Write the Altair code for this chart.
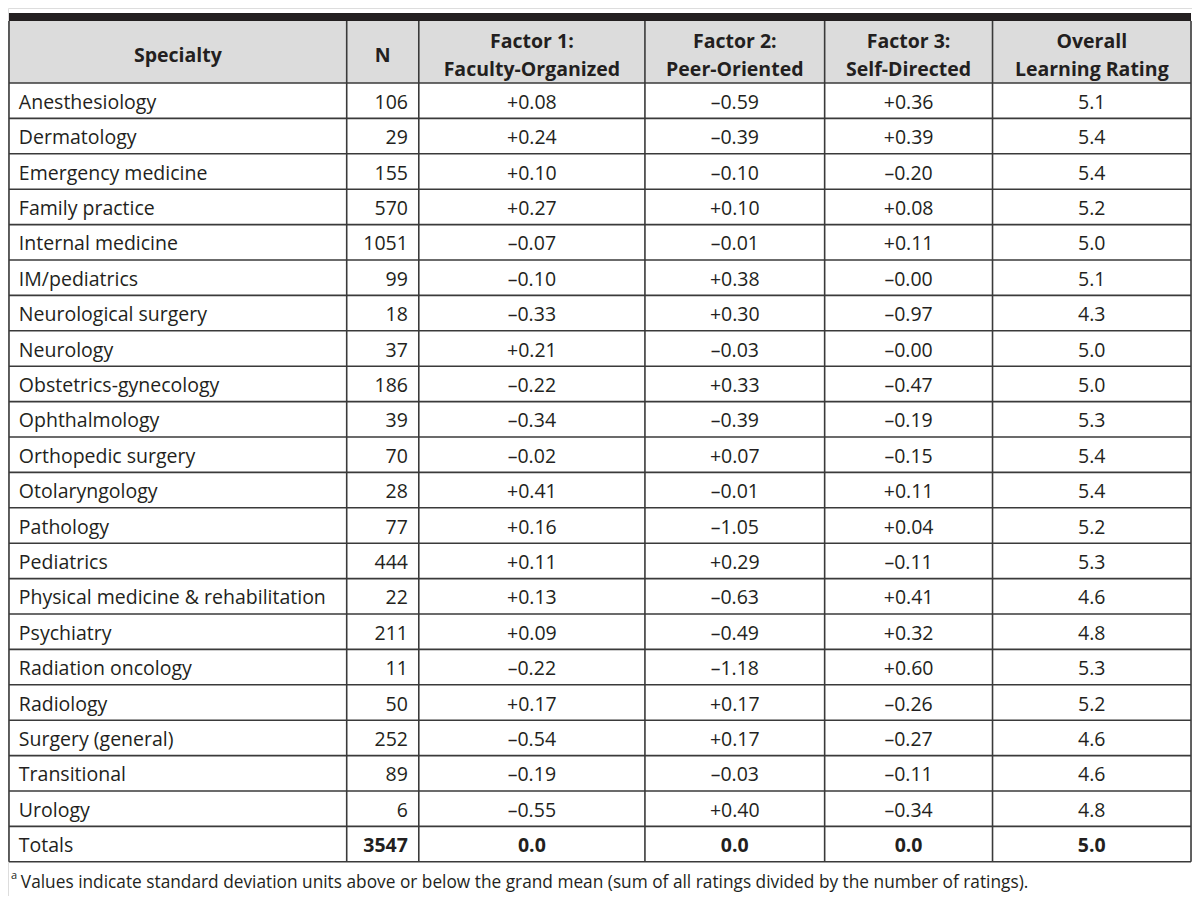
import altair as alt
import pandas as pd

# ---------------- data ----------------
specialties = [
    "Anesthesiology", "Dermatology", "Emergency medicine", "Family practice",
    "Internal medicine", "IM/pediatrics", "Neurological surgery", "Neurology",
    "Obstetrics-gynecology", "Ophthalmology", "Orthopedic surgery",
    "Otolaryngology", "Pathology", "Pediatrics",
    "Physical medicine & rehabilitation", "Psychiatry", "Radiation oncology",
    "Radiology", "Surgery (general)", "Transitional", "Urology",
]
n_values = ["106", "29", "155", "570", "1051", "99", "18", "37", "186", "39", "70",
            "28", "77", "444", "22", "211", "11", "50", "252", "89", "6"]
factor1 = ["+0.08", "+0.24", "+0.10", "+0.27", "–0.07", "–0.10", "–0.33", "+0.21",
           "–0.22", "–0.34", "–0.02", "+0.41", "+0.16", "+0.11", "+0.13", "+0.09",
           "–0.22", "+0.17", "–0.54", "–0.19", "–0.55"]
factor2 = ["–0.59", "–0.39", "–0.10", "+0.10", "–0.01", "+0.38", "+0.30", "–0.03",
           "+0.33", "–0.39", "+0.07", "–0.01", "–1.05", "+0.29", "–0.63", "–0.49",
           "–1.18", "+0.17", "+0.17", "–0.03", "+0.40"]
factor3 = ["+0.36", "+0.39", "–0.20", "+0.08", "+0.11", "–0.00", "–0.97", "–0.00",
           "–0.47", "–0.19", "–0.15", "+0.11", "+0.04", "–0.11", "+0.41", "+0.32",
           "+0.60", "–0.26", "–0.27", "–0.11", "–0.34"]
overall = ["5.1", "5.4", "5.4", "5.2", "5.0", "5.1", "4.3", "5.0", "5.0", "5.3", "5.4",
           "5.4", "5.2", "5.3", "4.6", "4.8", "5.3", "5.2", "4.6", "4.6", "4.8"]
totals = ["Totals", "3547", "0.0", "0.0", "0.0", "5.0"]
headers = ["Specialty", "N", "Factor 1:\nFaculty-Organized", "Factor 2:\nPeer-Oriented",
           "Factor 3:\nSelf-Directed", "Overall\nLearning Rating"]
footnote = ("Values indicate standard deviation units above or below the grand mean "
            "(sum of all ratings divided by the number of ratings).")

# ---------------- layout ----------------
col_edges = [1, 343, 416, 645, 827, 997, 1198]
FONT = "Open Sans"
FS = 19.5
TXT = "#231f20"
LINE = "#3a3a3a"

n_rows = len(specialties) + 1
columns = [specialties + [totals[0]], n_values + [totals[1]], factor1 + [totals[2]],
           factor2 + [totals[3]], factor3 + [totals[4]], overall + [totals[5]]]

cells = []
for c, col in enumerate(columns):
    for r, txt in enumerate(col):
        left, right = col_edges[c], col_edges[c + 1]
        if c == 0:
            xp = left + 10
        elif c == 1:
            xp = right - 11
        else:
            xp = (left + right) / 2
        cells.append({"r": r + 0.5, "c": c, "x": xp, "text": txt,
                      "total": r == n_rows - 1})
cells = pd.DataFrame(cells)

hdr_rows = []
for i, h in enumerate(headers):
    parts = h.split("\n")
    xc = (col_edges[i] + col_edges[i + 1]) / 2
    if len(parts) == 1:
        hdr_rows.append({"x": xc, "r": -0.79, "text": parts[0]})
    else:
        hdr_rows.append({"x": xc, "r": -1.18, "text": parts[0]})
        hdr_rows.append({"x": xc, "r": -0.39, "text": parts[1]})
hdr = pd.DataFrame(hdr_rows)

X = alt.Scale(domain=[0, 1199], nice=False, zero=False)
Y = alt.Scale(domain=[-2.119, 22.966], nice=False, zero=False, reverse=True)


def xe(f):
    return alt.X(f, type="quantitative", scale=X, axis=None)


def ye(f):
    return alt.Y(f, type="quantitative", scale=Y, axis=None)


band = pd.DataFrame({"x0": [col_edges[0]], "x1": [col_edges[-1]],
                     "y0": [-1.977], "y1": [-1.751], "y2": [0]})

black_bar = alt.Chart(band).mark_rect(color="#231f20").encode(
    x=xe("x0"), x2="x1", y=ye("y0"), y2="y1")
header_bg = alt.Chart(band).mark_rect(color="#dcdcdc").encode(
    x=xe("x0"), x2="x1", y=ye("y1"), y2="y2")

hlines = pd.DataFrame({"y": list(range(0, n_rows + 1)),
                       "x0": col_edges[0], "x1": col_edges[-1]})
h_rules = alt.Chart(hlines).mark_rule(color=LINE, strokeWidth=1.6).encode(
    x=xe("x0"), x2="x1", y=ye("y"))

vlines = pd.DataFrame({"x": col_edges, "y0": -1.751, "y1": n_rows})
v_rules = alt.Chart(vlines).mark_rule(color=LINE, strokeWidth=1.6).encode(
    x=xe("x"), y=ye("y0"), y2="y1")

header_text = alt.Chart(hdr).mark_text(
    font=FONT, fontSize=FS, fontWeight="bold", color=TXT, align="center",
    baseline="middle", dy=1).encode(x=xe("x"), y=ye("r"), text="text:N")


def cell_layer(data, align, weight):
    return alt.Chart(data).mark_text(
        font=FONT, fontSize=FS, fontWeight=weight, color=TXT, align=align,
        baseline="middle", dy=2).encode(x=xe("x"), y=ye("r"), text="text:N")


normal = cells[~cells["total"]]
tot = cells[cells["total"]]
layers = [
    cell_layer(cells[cells.c == 0], "left", "normal"),
    cell_layer(normal[normal.c == 1], "right", "normal"),
    cell_layer(normal[normal.c >= 2], "center", "normal"),
    cell_layer(tot[tot.c == 1], "right", "bold"),
    cell_layer(tot[tot.c >= 2], "center", "bold"),
]

foot = pd.DataFrame({"x": [13], "r": [22.6], "text": [footnote]})
foot_sup = pd.DataFrame({"x": [3], "r": [22.4], "text": ["a"]})
foot_text = alt.Chart(foot).mark_text(
    font=FONT, fontSize=17.3, color=TXT, align="left", baseline="middle").encode(
    x=xe("x"), y=ye("r"), text="text:N")
sup_text = alt.Chart(foot_sup).mark_text(
    font=FONT, fontSize=11, color=TXT, align="left", baseline="middle").encode(
    x=xe("x"), y=ye("r"), text="text:N")

chart = alt.layer(
    header_bg, black_bar, h_rules, v_rules, header_text, *layers, foot_text, sup_text
).properties(width=1184, height=888, padding=0, autosize="none").configure_view(
    strokeWidth=0, stroke="transparent").configure(background="white")

chart.save("out.html", embed_options={"renderer": "svg", "actions": False})
